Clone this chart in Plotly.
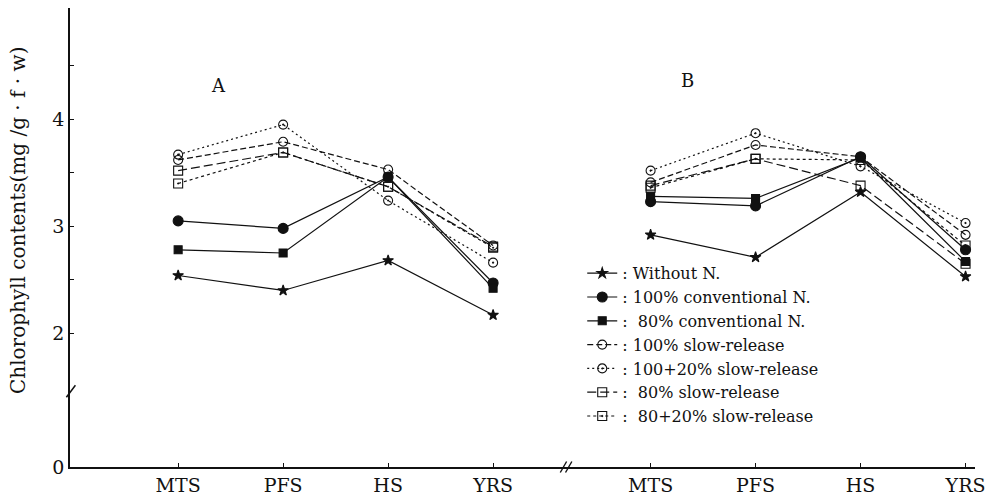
import plotly.graph_objects as go

# ---------------- data ----------------
stages = ["MTS", "PFS", "HS", "YRS"]
panels = ["A", "B"]

legend_labels = [
    ": Without N.",
    ": 100% conventional N.",
    ":  80% conventional N.",
    ": 100% slow-release",
    ": 100+20% slow-release",
    ":  80% slow-release",
    ":  80+20% slow-release",
]

# panel A values (mg/g f.w)
without_n_a = [2.54, 2.40, 2.68, 2.17]
conv100_a = [3.05, 2.98, 3.46, 2.47]
conv80_a = [2.78, 2.75, 3.46, 2.42]
slow100_a = [3.62, 3.79, 3.53, 2.82]
slow100_20_a = [3.67, 3.95, 3.24, 2.66]
slow80_a = [3.52, 3.69, 3.37, 2.81]
slow80_20_a = [3.40, 3.69, 3.37, 2.80]

# panel B values
without_n_b = [2.92, 2.71, 3.32, 2.53]
conv100_b = [3.23, 3.19, 3.65, 2.78]
conv80_b = [3.28, 3.26, 3.64, 2.67]
slow100_b = [3.41, 3.76, 3.65, 2.92]
slow100_20_b = [3.52, 3.87, 3.56, 3.03]
slow80_b = [3.38, 3.63, 3.38, 2.65]
slow80_20_b = [3.36, 3.63, 3.62, 2.82]

values_a = [without_n_a, conv100_a, conv80_a, slow100_a, slow100_20_a, slow80_a, slow80_20_a]
values_b = [without_n_b, conv100_b, conv80_b, slow100_b, slow100_20_b, slow80_b, slow80_20_b]

# ---------------- styles ----------------
INK = "#111111"
FONT = "DejaVu Serif"
styles = [
    dict(symbol="star", size=8, dash="solid"),
    dict(symbol="circle", size=10, dash="solid"),
    dict(symbol="square", size=8, dash="solid"),
    dict(symbol="circle-open", size=9, dash="6px,3px"),
    dict(symbol="circle-open-dot", size=9, dash="2px,3px"),
    dict(symbol="square-open", size=9, dash="9px,4px"),
    dict(symbol="square-open-dot", size=9, dash="3px,3px"),
]

panel_offset = {"A": 0.0, "B": 4.5}

fig = go.Figure()
for panel, vals in zip(panels, [values_a, values_b]):
    xs = [i + panel_offset[panel] for i in range(len(stages))]
    for k, (name, ys, st) in enumerate(zip(legend_labels, vals, styles)):
        fig.add_trace(go.Scatter(
            x=xs, y=ys, mode="lines+markers", name=name,
            legendgroup=name, showlegend=(panel == "A"),
            line=dict(color=INK, width=1.2, dash=st["dash"]),
            marker=dict(symbol=st["symbol"], size=st["size"], color=INK,
                        line=dict(color=INK, width=1.1)),
        ))

tick_x = [i + panel_offset[p] for p in panels for i in range(len(stages))]
tick_text = stages * len(panels)

y_bottom = 0.75  # position of the (broken) zero
fig.update_layout(
    width=995, height=497,
    margin=dict(l=70, r=20, t=8, b=30),
    paper_bgcolor="white", plot_bgcolor="white",
    font=dict(family=FONT, color=INK),
    showlegend=True,
    legend=dict(x=0.566, y=0.459, xanchor="left", yanchor="top",
                bgcolor="rgba(0,0,0,0)", font=dict(family=FONT, size=16, color=INK),
                tracegroupgap=0, itemwidth=30),
    xaxis=dict(range=[-1.03, 7.59], showgrid=False, zeroline=False, automargin=False,
               showline=True, linecolor=INK, linewidth=1.5,
               tickvals=tick_x, ticktext=tick_text, ticks="inside",
               ticklen=4, tickcolor=INK, tickfont=dict(family=FONT, size=19, color=INK)),
    yaxis=dict(range=[y_bottom, 5.04], showgrid=False, zeroline=False, automargin=False,
               showline=True, linecolor=INK, linewidth=1.5,
               tickvals=[y_bottom, 2, 2.5, 3, 3.5, 4, 4.5],
               ticktext=["0", "2", "", "3", "", "4", ""],
               ticks="inside", ticklen=4, tickcolor=INK,
               tickfont=dict(family=FONT, size=19, color=INK)),
)

# panel letters
fig.add_annotation(x=0.38, y=4.32, xref="x", yref="y", text="A", showarrow=False,
                   font=dict(family=FONT, size=18, color=INK))
fig.add_annotation(x=4.85, y=4.36, xref="x", yref="y", text="B", showarrow=False,
                   font=dict(family=FONT, size=18, color=INK))

# y axis title
fig.add_annotation(x=-0.0575, y=0.538, xref="paper", yref="paper",
                   xanchor="center", yanchor="middle",
                   text="Chlorophyll contents(mg /g · f · w)", textangle=-90,
                   showarrow=False, font=dict(family=FONT, size=20, color=INK))

# axis break marks
fig.add_shape(type="line", xref="paper", yref="paper", x0=-0.004, x1=0.006,
              y0=0.152, y1=0.178, line=dict(color=INK, width=1.5))
for dx in (0.0, 0.05):
    fig.add_shape(type="line", xref="x", yref="paper", x0=3.64 + dx, x1=3.70 + dx,
                  y0=-0.012, y1=0.012, line=dict(color=INK, width=1.4))

fig.write_html("out.html")
